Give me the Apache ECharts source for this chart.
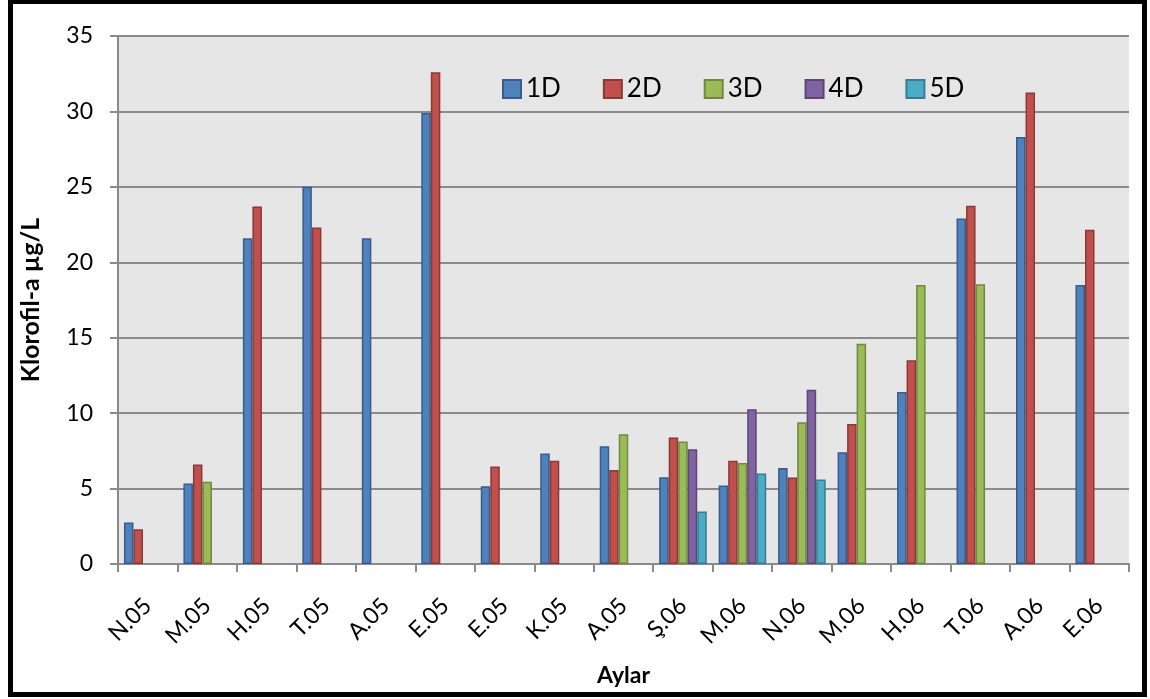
<!DOCTYPE html>
<html>
<head>
<meta charset="utf-8">
<script src="https://cdn.jsdelivr.net/npm/echarts@6/dist/echarts.min.js"></script>
<style>
  html, body { margin: 0; padding: 0; background: #ffffff; }
  #chart { width: 1150px; height: 699px; }
</style>
</head>
<body>
<div id="chart"></div>
<script>
// Months (Turkish abbreviations) of the sampling campaign
const months = ['N.05', 'M.05', 'H.05', 'T.05', 'A.05', 'E.05', 'E.05', 'K.05', 'A.05',
                'Ş.06', 'M.06', 'N.06', 'M.06', 'H.06', 'T.06', 'A.06', 'E.06'];

// Chlorophyll-a (µg/L) per station; null = no sample
const d1 = [2.75, 5.33, 21.6, 25.0, 21.6, 29.9, 5.16, 7.32, 7.8, 5.75, 5.2, 6.37, 7.4, 11.4, 22.9, 28.3, 18.5];
const d2 = [2.3, 6.6, 23.7, 22.3, null, 32.6, 6.46, 6.84, 6.23, 8.38, 6.84, 5.73, 9.28, 13.5, 23.75, 31.25, 22.15];
const d3 = [null, 5.45, null, null, null, null, null, null, 8.6, 8.12, 6.7, 9.4, 14.6, 18.5, 18.55, null, null];
const d4 = [null, null, null, null, null, null, null, null, null, 7.6, 10.25, 11.55, null, null, null, null, null];
const d5 = [null, null, null, null, null, null, null, null, null, 3.48, 6.0, 5.6, null, null, null, null, null];

const stations = ['1D', '2D', '3D', '4D', '5D'];
const stationData = [d1, d2, d3, d4, d5];
const fills = ['#4F81BD', '#C0504D', '#9BBB59', '#8064A2', '#4BACC6'];
const borders = ['#385D8A', '#8C3836', '#71893F', '#5C4776', '#357D91'];

const yTicks = { min: 0, max: 35, interval: 5 };

const FONT = 'Lato, "Open Sans", sans-serif';
const GRID_GREY = '#8A8A8A';

const chart = echarts.init(document.getElementById('chart'), null, { renderer: 'canvas' });

chart.setOption({
  backgroundColor: '#ffffff',
  animation: false,
  textStyle: { fontFamily: FONT, color: '#000' },
  grid: {
    left: 118, right: 21, top: 36, bottom: 135,
    outerBoundsMode: 'none',
    containLabel: false,
    show: true, backgroundColor: '#E6E6E6', borderWidth: 0
  },
  legend: {
    data: stations,
    left: 497, top: 71,
    itemWidth: 18, itemHeight: 18, itemGap: 42,
    icon: 'rect',
    textStyle: { fontFamily: FONT, fontSize: 26, color: '#000' }
  },
  xAxis: {
    type: 'category',
    data: months,
    boundaryGap: true,
    name: 'Aylar',
    nameLocation: 'middle',
    nameGap: 100,
    nameTextStyle: { fontFamily: FONT, fontWeight: 'bold', fontSize: 23, color: '#000' },
    axisLine: { show: true, lineStyle: { color: GRID_GREY, width: 2 } },
    axisTick: { show: true, length: 8, lineStyle: { color: GRID_GREY, width: 2 } },
    axisLabel: { rotate: 45, margin: 38, fontSize: 23, color: '#000', fontFamily: FONT, interval: 0 },
    splitLine: { show: false }
  },
  yAxis: {
    type: 'value',
    min: yTicks.min, max: yTicks.max, interval: yTicks.interval,
    name: 'Klorofil-a µg/L',
    nameLocation: 'middle',
    nameGap: 75,
    nameTextStyle: { fontFamily: FONT, fontWeight: 'bold', fontSize: 25, color: '#000' },
    axisLine: { show: true, lineStyle: { color: GRID_GREY, width: 2 } },
    axisTick: { show: true, length: 8, lineStyle: { color: GRID_GREY, width: 2 } },
    axisLabel: { margin: 25, fontSize: 23, color: '#000', fontFamily: FONT },
    splitLine: { show: true, lineStyle: { color: GRID_GREY, width: 2 } }
  },
  series: stations.map((name, i) => ({
    name,
    type: 'bar',
    data: stationData[i],
    barGap: '0%',
    barCategoryGap: '20%',
    itemStyle: { color: fills[i], borderColor: borders[i], borderWidth: 1.5 }
  })),
  graphic: [{
    type: 'rect',
    shape: { x: 10.5, y: 1.5, width: 1134, height: 693 },
    style: { fill: 'none', stroke: '#000', lineWidth: 5 },
    silent: true, z: 100
  }]
});
</script>
</body>
</html>
